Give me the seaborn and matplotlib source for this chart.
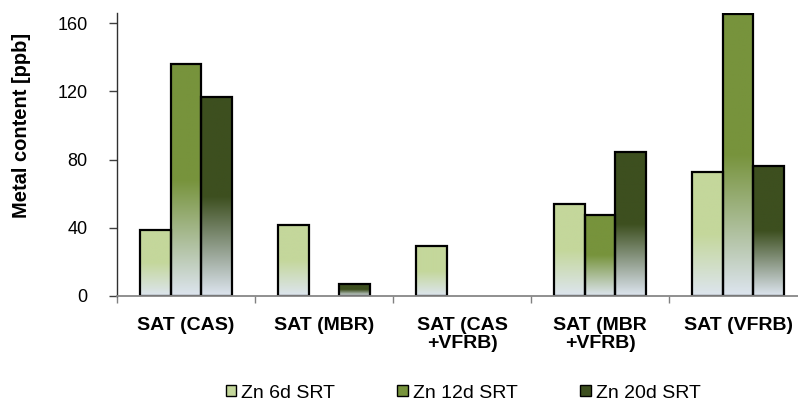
import numpy as np
import pandas as pd
import matplotlib
matplotlib.use("Agg")
import matplotlib.pyplot as plt
from matplotlib.colors import to_rgba
from matplotlib.patches import Patch
import seaborn as sns

# Zinc content per treatment line and sludge retention time
sites = ["SAT (CAS)", "SAT (MBR)", "SAT (CAS\n+VFRB)", "SAT (MBR\n+VFRB)", "SAT (VFRB)"]
series = ["Zn 6d SRT", "Zn 12d SRT", "Zn 20d SRT"]
zn_6d = [38.8, 41.7, 29.2, 53.7, 72.7]
zn_12d = [135.9, 0.0, 0.0, 47.6, 165.5]
zn_20d = [116.7, 7.3, 0.0, 84.4, 76.4]
y_ticks = [0, 40, 80, 120, 160]

top_colors = ["#c4d79b", "#77933c", "#3d4f1f"]
base_color = "#dde5ef"

df = pd.DataFrame({
    "site": sites * 3,
    "series": sum([[s] * len(sites) for s in series], []),
    "value": zn_6d + zn_12d + zn_20d,
})

sns.set_theme(style="white")
plt.rcParams["font.family"] = ["Liberation Sans", "DejaVu Sans"]
plt.rcParams["text.color"] = "black"
plt.rcParams["xtick.color"] = "black"
plt.rcParams["ytick.color"] = "black"
plt.rcParams["axes.labelcolor"] = "black"

fig = plt.figure(figsize=(7.98, 4.04), dpi=100)
ax = fig.add_axes([117 / 798, 108 / 404, 690 / 798, 283 / 404])

sns.barplot(data=df, x="site", y="value", hue="series", order=sites,
            hue_order=series, palette=top_colors, saturation=1, width=0.667,
            edgecolor="black", linewidth=1.6, errorbar=None,
            legend=False, ax=ax)


def gradient_image(color, n=200):
    """Column of RGBA: solid colour in the upper half, fading to the base below."""
    top = np.array(to_rgba(color))
    bot = np.array(to_rgba(base_color))
    t = np.linspace(0, 1, n)  # 0 = bottom, 1 = top
    f = np.clip(t / 0.5, 0, 1)[:, None]
    col = bot * (1 - f) + top * f
    return col[:, None, :]


for patch in list(ax.patches):
    h = patch.get_height()
    if h <= 0:
        patch.set_visible(False)
        continue
    x = patch.get_x()
    w = patch.get_width()
    color = patch.get_facecolor()
    img = gradient_image(color)
    im = ax.imshow(img, extent=[x, x + w, 0, h], origin="lower",
                   aspect="auto", zorder=patch.get_zorder() - 0.1,
                   interpolation="bilinear")
    im.set_clip_path(patch)
    patch.set_facecolor("none")
    patch.set_zorder(patch.get_zorder() + 0.2)

ax.set_xlim(-0.5, len(sites) - 0.5)
ax.set_ylim(0, 166)
ax.set_yticks(y_ticks)
ax.set_yticklabels([str(v) for v in y_ticks], fontsize=13)

# category labels centred, boundary ticks between groups
ax.set_xticks(range(len(sites)))
ax.set_xticklabels(sites, fontsize=14, fontweight="bold", linespacing=1.1)
ax.set_xticks(np.arange(-0.5, len(sites)), minor=True)
ax.tick_params(axis="x", which="major", length=0, pad=15)
ax.tick_params(axis="x", which="minor", direction="out", length=5,
               width=1, color="#808080", bottom=True)
ax.tick_params(axis="y", direction="out", length=6, width=1,
               color="#404040", pad=15, left=True)

ax.set_xlabel("")
ax.set_ylabel("Metal content [ppb]", fontsize=14.5, fontweight="bold",
              va="center")
ax.yaxis.set_label_coords(-0.138, 0.604)

for side in ["top", "right"]:
    ax.spines[side].set_visible(False)
ax.spines["left"].set_color("#303030")
ax.spines["left"].set_linewidth(1.0)
ax.spines["bottom"].set_color("#878787")
ax.spines["bottom"].set_linewidth(1.3)

handles = [Patch(facecolor=c, edgecolor="black", linewidth=1.0, label=s)
           for c, s in zip(top_colors, series)]
fig.legend(handles=handles, loc="center", bbox_to_anchor=(463 / 798, 11 / 404),
           ncol=3, frameon=False, fontsize=14, handlelength=0.55,
           handleheight=0.55, handletextpad=0.25, columnspacing=3.2,
           borderaxespad=0)

fig.savefig("out.png", dpi=100)
